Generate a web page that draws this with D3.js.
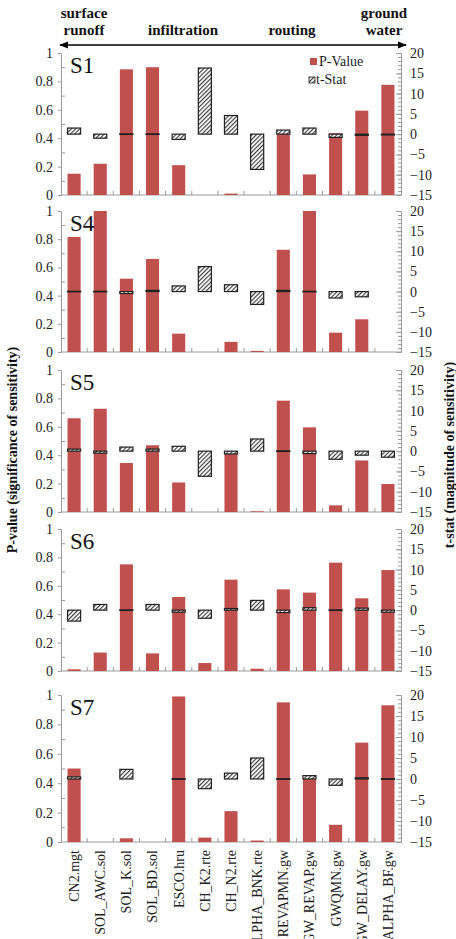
<!DOCTYPE html>
<html><head><meta charset="utf-8">
<script src="https://cdn.jsdelivr.net/npm/d3@7"></script>
<style>body{margin:0;background:#fff}svg{display:block}text{font-family:"Liberation Serif","Times New Roman",serif}</style>
</head><body>
<svg id="c" width="456" height="939"></svg>
<script>
// ---------- data ----------
const categories = ["CN2.mgt","SOL_AWC.sol","SOL_K.sol","SOL_BD.sol","ESCO.hru","CH_K2.rte","CH_N2.rte","ALPHA_BNK.rte","REVAPMN.gw","GW_REVAP.gw","GWQMN.gw","GW_DELAY.gw","ALPHA_BF.gw"];
const scenarios = ["S1","S4","S5","S6","S7"];
const pS1 = [0.15,0.22,0.885,0.90,0.21,0,0.01,0,0.45,0.145,0.435,0.594,0.776];
const tS1 = [1.5,-1.0,0,0,-1.3,16.3,4.6,-8.7,1.0,1.5,-0.8,-0.3,-0.2];
const pS4 = [0.816,1.0,0.52,0.66,0.13,0,0.072,0.008,0.725,1.0,0.137,0.232,0];
const tS4 = [0,0,-0.5,0.3,1.4,6.2,1.7,-3.2,0.3,0,-1.6,-1.3,null];
const pS5 = [0.66,0.727,0.345,0.47,0.208,0,0.42,0.005,0.784,0.596,0.047,0.363,0.197];
const tS5 = [0.5,-0.5,1.0,0.5,1.2,-6.2,-0.7,3.0,0,-0.6,-2.0,-1.0,-1.5];
const pS6 = [0.012,0.13,0.751,0.124,0.521,0.056,0.643,0.016,0.575,0.552,0.763,0.512,0.711];
const tS6 = [-2.7,1.4,0,1.4,-0.5,-2.0,0.4,2.4,-0.6,0.6,0,0.5,-0.5];
const pS7 = [0.50,0,0.025,0,0.99,0.03,0.21,0.01,0.95,0.44,0.117,0.676,0.93];
const tS7 = [0.5,null,2.3,null,0,-2.3,1.4,5.0,0,0.8,-1.5,0.3,0];
const pValues = [pS1,pS4,pS5,pS6,pS7];
const tValues = [tS1,tS4,tS5,tS6,tS7];
const pTicks = [0,0.2,0.4,0.6,0.8,1];
const pTickLabels = ["0","0.2","0.4","0.6","0.8","1"];
const pMinorTicks = [0.1,0.3,0.5,0.7,0.9];
const tTicks = [-15,-10,-5,0,5,10,15,20];
const tMinorTicks = d3.range(-15,21,1);
const groups = [
  {lines:["surface","runoff"], x:84},
  {lines:["","infiltration"], x:183},
  {lines:["","routing"], x:292},
  {lines:["ground","water"], x:384}
];
const legendLabels = ["P-Value","t-Stat"];
const leftTitle = "P-value (significance of sensitivity)";
const rightTitle = "t-stat (magnitude of sensitivity)";

// ---------- layout ----------
const X0 = 61, X1 = 401;
const panelTop = [53,211,370,529,695];
const panelBot = [195,352,512,671,842];
const RED = "#C0504D", AXIS = "#9a9a9a", TXT = "#222";

const svg = d3.select("#c");
svg.append("rect").attr("width",456).attr("height",939).attr("fill","#fff");
const defs = svg.append("defs");
const pat = defs.append("pattern").attr("id","hatch").attr("patternUnits","userSpaceOnUse")
  .attr("width",3).attr("height",3).attr("patternTransform","rotate(45)");
pat.append("rect").attr("width",3).attr("height",3).attr("fill","#fff");
pat.append("line").attr("x1",0.6).attr("y1",0).attr("x2",0.6).attr("y2",3).attr("stroke","#333").attr("stroke-width",1.1);
const mk = defs.append("marker").attr("id","arr").attr("viewBox","0 0 10 10").attr("refX",9).attr("refY",5)
  .attr("markerWidth",7).attr("markerHeight",7).attr("orient","auto-start-reverse");
mk.append("path").attr("d","M0,1 L10,5 L0,9 Z").attr("fill","#000");

const x = d3.scaleBand().domain(categories).range([X0,X1]).paddingInner(0.5).paddingOuter(0.25);
const step = x.step();

// header
groups.forEach(g=>{
  g.lines.forEach((l,i)=>{
    if(!l) return;
    svg.append("text").attr("x",g.x).attr("y",18+i*17).attr("text-anchor","middle")
      .attr("font-size",15).attr("font-weight","bold").attr("fill","#111").text(l);
  });
});
svg.append("line").attr("x1",60).attr("x2",406).attr("y1",45).attr("y2",45)
  .attr("stroke","#000").attr("stroke-width",1.3)
  .attr("marker-start","url(#arr)").attr("marker-end","url(#arr)");

scenarios.forEach((s,pi)=>{
  const top = panelTop[pi], bot = panelBot[pi];
  const y = d3.scaleLinear().domain([0,1]).range([bot,top]);
  const y2 = d3.scaleLinear().domain([-15,20]).range([bot,top]);
  const g = svg.append("g");

  // left axis
  const la = g.append("g").attr("transform",`translate(${X0},0)`)
    .call(d3.axisLeft(y).tickValues(pTicks).tickFormat((d,i)=>pTickLabels[i]).tickSizeInner(3).tickSizeOuter(0).tickPadding(5));
  la.select(".domain").attr("stroke",AXIS);
  la.selectAll(".tick line").attr("stroke",AXIS);
  la.selectAll("text").attr("font-size",14).attr("fill",TXT).attr("font-family","Liberation Serif");
  const lm = g.append("g").attr("transform",`translate(${X0},0)`)
    .call(d3.axisRight(y).tickValues(pMinorTicks).tickSize(4).tickFormat(""));
  lm.select(".domain").remove();
  lm.selectAll(".tick line").attr("stroke",AXIS);

  // right axis
  const rm = g.append("g").attr("transform",`translate(${X1},0)`)
    .call(d3.axisLeft(y2).tickValues(tMinorTicks).tickSize(3).tickFormat(""));
  rm.select(".domain").attr("stroke",AXIS);
  rm.selectAll(".tick line").attr("stroke",AXIS);
  const rM = g.append("g").attr("transform",`translate(${X1},0)`)
    .call(d3.axisLeft(y2).tickValues(tTicks).tickSize(5).tickFormat(""));
  rM.select(".domain").remove();
  rM.selectAll(".tick line").attr("stroke",AXIS);
  const ra = g.append("g").attr("transform",`translate(${X1},0)`)
    .call(d3.axisRight(y2).tickValues(tTicks).tickSize(0).tickPadding(9));
  ra.select(".domain").remove();
  ra.selectAll("text").attr("font-size",14).attr("fill",TXT).attr("font-family","Liberation Serif");

  // bottom axis
  g.append("line").attr("x1",X0).attr("x2",X1).attr("y1",bot).attr("y2",bot).attr("stroke",AXIS);
  g.selectAll(".bt").data(categories.slice(1)).join("line")
    .attr("x1",d=>x(d)-(step-x.bandwidth())/2).attr("x2",d=>x(d)-(step-x.bandwidth())/2)
    .attr("y1",bot).attr("y2",bot-4).attr("stroke",AXIS);

  // bars
  const pv = pValues[pi], tv = tValues[pi];
  g.selectAll(".bar").data(categories.map((c,i)=>({c,v:pv[i]})).filter(d=>d.v>0)).join("rect")
    .attr("x",d=>x(d.c)).attr("width",x.bandwidth())
    .attr("y",d=>y(d.v)).attr("height",d=>bot-y(d.v)).attr("fill",RED);
  g.selectAll(".ts").data(categories.map((c,i)=>({c,v:tv[i]})).filter(d=>d.v!==null)).join("rect")
    .attr("x",d=>x(d.c)).attr("width",x.bandwidth())
    .attr("y",d=>Math.min(y2(d.v),y2(0))-(d.v===0?0.3:0))
    .attr("height",d=>Math.max(0.6,Math.abs(y2(d.v)-y2(0))))
    .attr("fill",d=>d.v===0?"#000":"url(#hatch)").attr("stroke","#222").attr("stroke-width",1.2);

  // panel label
  g.append("text").attr("x",70).attr("y",top+20).attr("font-size",23).attr("fill","#111").text(s);

  if(pi===0){
    g.append("rect").attr("x",310).attr("y",58).attr("width",7).attr("height",7).attr("fill",RED);
    g.append("text").attr("x",319).attr("y",65.5).attr("font-size",14).attr("fill",TXT).text(legendLabels[0]);
    g.append("rect").attr("x",309).attr("y",77).attr("width",6).attr("height",6).attr("fill","url(#hatch)").attr("stroke","#222").attr("stroke-width",0.8);
    g.append("text").attr("x",316).attr("y",84).attr("font-size",14).attr("fill",TXT).text(legendLabels[1]);
  }
  if(pi===scenarios.length-1){
    const xa = g.append("g").attr("transform",`translate(0,${bot})`).call(d3.axisBottom(x).tickSize(0));
    xa.select(".domain").remove();
    xa.selectAll("text").attr("font-size",14).attr("fill",TXT).attr("font-family","Liberation Serif")
      .attr("text-anchor","end").attr("dy","0.35em").attr("y",0)
      .attr("transform","translate(0,8) rotate(-90)");
  }
});

// axis titles
svg.append("text").attr("transform","translate(17,450) rotate(-90)").attr("text-anchor","middle")
  .attr("font-size",14).attr("font-weight","bold").attr("fill","#111").text(leftTitle);
svg.append("text").attr("transform","translate(454,455) rotate(-90)").attr("text-anchor","middle")
  .attr("font-size",14).attr("font-weight","bold").attr("fill","#111").text(rightTitle);
</script>
</body></html>
